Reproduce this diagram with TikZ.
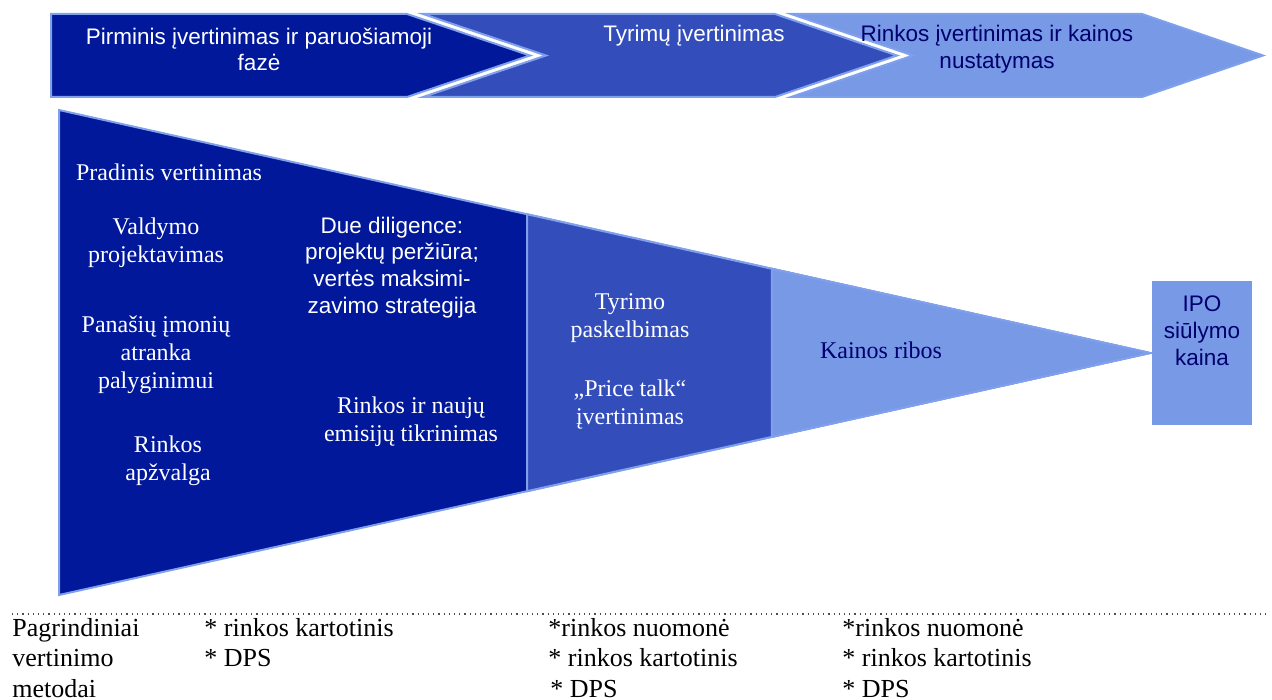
\documentclass[tikz,border=0pt]{standalone}
\usepackage{fontspec}
\setmainfont{Liberation Serif}
\setsansfont{Liberation Sans}
\usepackage{tikz}
\usetikzlibrary{calc}
\definecolor{navyA}{RGB}{0,24,153}
\definecolor{blueB}{RGB}{51,77,187}
\definecolor{blueC}{RGB}{119,153,230}
\definecolor{edgeC}{RGB}{128,160,236}
\definecolor{inkC}{RGB}{0,0,110}
\newcommand{\serifsize}{\fontsize{12}{14}\selectfont}
\newcommand{\sanssize}{\fontsize{11.25}{13.4}\selectfont\sffamily}
\newcommand{\methsize}{\fontsize{13}{15}\selectfont}

\begin{document}
\begin{tikzpicture}[x=0.5pt, y=-0.5pt]
        %\draw[help lines] (0,0) grid (1272,700);
        \tikzset{stage/.style = {fill=#1, draw=edgeC, line width=1pt}}
        \tikzset{headtxt/.style = {font=\sanssize, align=center, inner sep=0pt, text=#1}}
        \tikzset{steptxt/.style = {font=\serifsize, align=center, inner sep=0pt, text=#1}}
        \tikzset{methtxt/.style = {font=\methsize, anchor=base west, inner sep=0pt}}
        \useasboundingbox (0,0) rectangle (1272,700);

        % phases
        \draw[stage=navyA] (51,14) -- (407,14) -- (530,55.5) -- (407,97) -- (51,97) -- cycle;
        \draw[stage=blueB] (423,14) -- (775,14) -- (897,55.5) -- (775,97) -- (423,97) -- (546,55.5) -- cycle;
        \draw[stage=blueC] (791,14) -- (1142,14) -- (1263,55.5) -- (1142,97) -- (791,97) -- (913,55.5) -- cycle;
        \node[headtxt=white] (ph1) at (259,49.5) {Pirminis įvertinimas ir paruošiamoji\\fazė};
        \node[headtxt=white] (ph2) at (694,36) {Tyrimų įvertinimas};
        \node[headtxt=inkC] (ph3) at (997,49.5) {Rinkos įvertinimas ir kainos\\nustatymas};

        % funnel
        \coordinate (ftl) at (59,110);
        \coordinate (fbl) at (59,595);
        \coordinate (apex) at (1150,353);
        \draw[stage=navyA] (ftl) -- (apex) -- (fbl) -- cycle;
        \draw[stage=blueB] ($(ftl)!0.429!(apex)$) -- (apex) -- ($(fbl)!0.429!(apex)$) -- cycle;
        \draw[stage=blueC] ($(ftl)!0.6535!(apex)$) -- (apex) -- ($(fbl)!0.6535!(apex)$) -- cycle;

        \node[steptxt=white] (s1) at (169,172) {Pradinis vertinimas};
        \node[steptxt=white] (s2) at (156,242.5) {Valdymo\\projektavimas};
        \node[steptxt=white] (s3) at (156,355) {Panašių įmonių\\atranka\\palyginimui};
        \node[steptxt=white] (s4) at (168,461) {Rinkos\\apžvalga};
        \node[headtxt=white] (s5) at (392,267.5) {Due diligence:\\projektų peržiūra;\\vertės maksimi-\\zavimo strategija};
        \node[steptxt=white] (s6) at (411,422) {Rinkos ir naujų\\emisijų tikrinimas};
        \node[steptxt=white] (s7) at (630,318.5) {Tyrimo\\paskelbimas};
        \node[steptxt=white] (s8) at (630,405) {„Price talk“\\įvertinimas};
        \node[steptxt=inkC] (s9) at (881,350) {Kainos ribos};

        \node[fill=blueC, minimum width=50pt, minimum height=72pt, inner sep=0pt] (ipo) at (1202,353) {};
        \node[headtxt=inkC] (ipotxt) at (1202,331) {IPO\\siūlymo\\kaina};

        % methods
        \coordinate (dl) at (12,614);
        \coordinate (dr) at (1270,614);
        \draw[dotted, line width=0.6pt, black!70] (dl) -- (dr);
        \node[methtxt] (m11) at (12,636) {Pagrindiniai};
        \node[methtxt] (m12) at (12,666.5) {vertinimo};
        \node[methtxt] (m13) at (12,697) {metodai};
        \node[methtxt] (m21) at (204,636) {* rinkos kartotinis};
        \node[methtxt] (m22) at (204,666.5) {* DPS};
        \node[methtxt] (m31) at (548,636) {*rinkos nuomonė};
        \node[methtxt] (m32) at (548,666.5) {* rinkos kartotinis};
        \node[methtxt] (m33) at (550,697) {* DPS};
        \node[methtxt] (m41) at (842,636) {*rinkos nuomonė};
        \node[methtxt] (m42) at (842,666.5) {* rinkos kartotinis};
        \node[methtxt] (m43) at (842,697) {* DPS};
\end{tikzpicture}
\end{document}
